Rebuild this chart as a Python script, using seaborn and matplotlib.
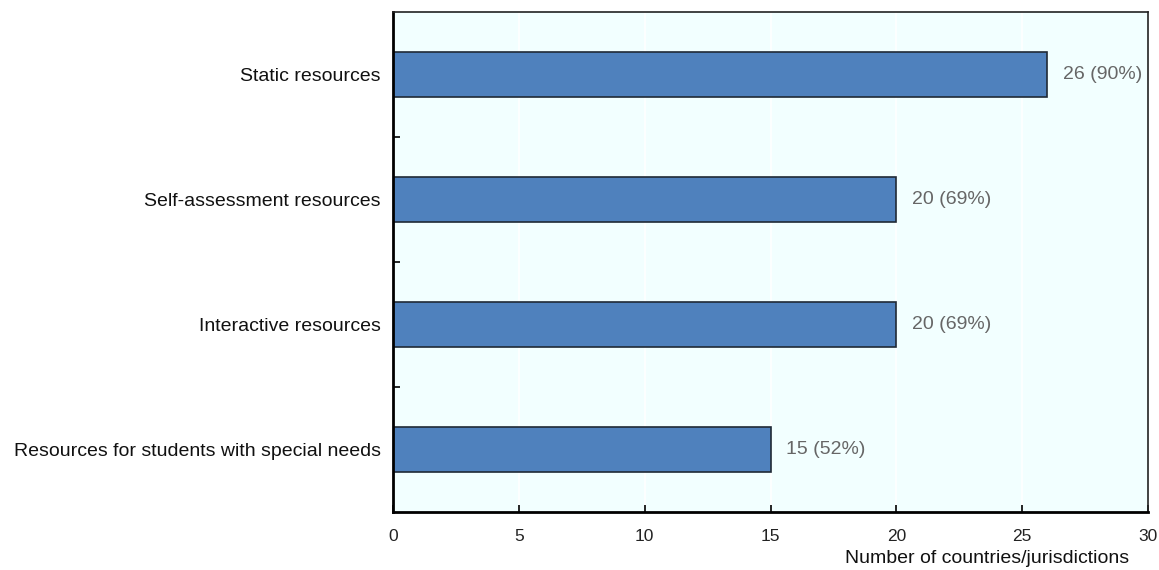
import matplotlib
matplotlib.use("Agg")
import matplotlib.pyplot as plt
import seaborn as sns
import pandas as pd

categories = [
    "Static resources",
    "Self-assessment resources",
    "Interactive resources",
    "Resources for students with special needs",
]
counts = [26, 20, 20, 15]
percents = [90, 69, 69, 52]
x_ticks = [0, 5, 10, 15, 20, 25, 30]

df = pd.DataFrame({"category": categories, "count": counts, "pct": percents})

sns.set_theme(style="white")
plt.rcParams["font.family"] = ["Liberation Sans", "DejaVu Sans"]

fig = plt.figure(figsize=(11.59, 5.70), dpi=100)
ax = fig.add_axes([393 / 1159, 1 - 512 / 570, (1148 - 393) / 1159, (512 - 12) / 570])
ax.set_facecolor("#F2FFFF")

sns.barplot(data=df, x="count", y="category", orient="h", color="#4F81BD",
            saturation=1, width=0.36, edgecolor="#1F2A36", linewidth=1.2, ax=ax)

for i, (c, p) in enumerate(zip(counts, percents)):
    ax.text(c + 0.62, i, f"{c} ({p}%)", va="center", ha="left",
            fontsize=14, color="#666666")

ax.set_xlim(0, 30)
ax.set_ylim(3.5, -0.5)
ax.set_xticks(x_ticks)
ax.set_xticklabels([str(t) for t in x_ticks], fontsize=12.5, color="#222222")
ax.set_yticks(range(len(categories)))
ax.set_yticklabels(categories, fontsize=14, color="#111111")
ax.tick_params(axis="y", length=0, pad=9)
ax.tick_params(axis="x", direction="in", length=5, width=1.2, color="black", pad=12, bottom=True)
ax.set_yticks([0.5, 1.5, 2.5], minor=True)
ax.tick_params(axis="y", which="minor", direction="in", length=5, width=1.2, color="black", left=True)

ax.xaxis.grid(True, color="white", linewidth=1.2)
ax.set_axisbelow(True)

ax.set_ylabel("")
ax.set_xlabel("Number of countries/jurisdictions", fontsize=14, color="#111111")
ax.xaxis.set_label_coords(0.975, -0.076)
ax.xaxis.label.set_horizontalalignment("right")
ax.xaxis.label.set_verticalalignment("top")

for side in ["left", "bottom"]:
    ax.spines[side].set_color("black")
    ax.spines[side].set_linewidth(2)
for side in ["top", "right"]:
    ax.spines[side].set_color("#222222")
    ax.spines[side].set_linewidth(1.2)

fig.savefig("out.png", dpi=100, facecolor="white")
